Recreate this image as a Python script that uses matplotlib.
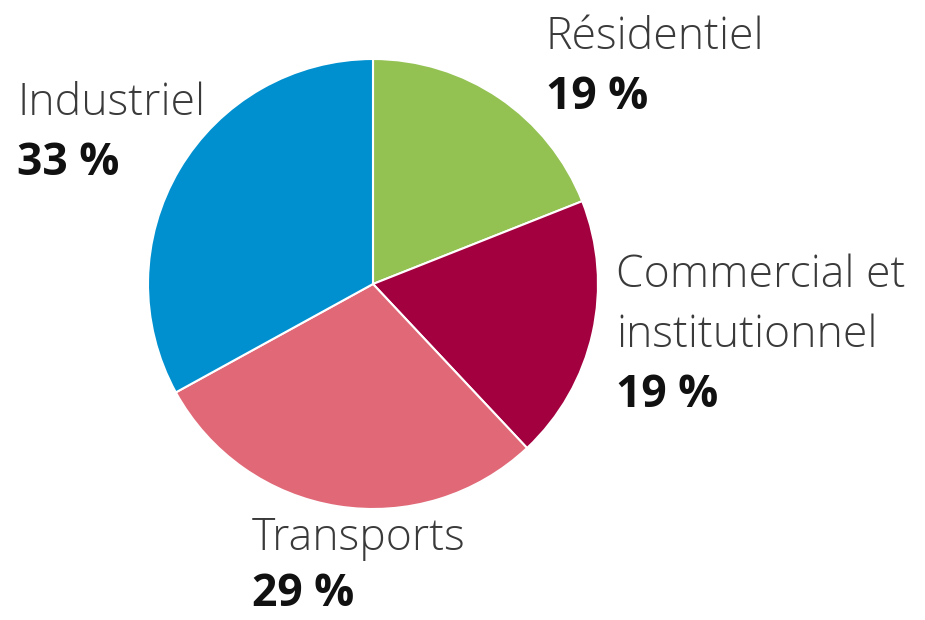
import matplotlib
matplotlib.use("Agg")
import matplotlib.pyplot as plt

categories = ["Résidentiel", "Commercial et\ninstitutionnel", "Transports", "Industriel"]
values = [19, 19, 29, 33]
pct_labels = ["19 %", "19 %", "29 %", "33 %"]
colors = ["#93C152", "#A3003F", "#E06877", "#0090D0"]

W, H = 925, 620
fig = plt.figure(figsize=(W / 100, H / 100), dpi=100)
cx, cy, r = 373, 284, 225
ax = fig.add_axes([(cx - r) / W, (H - cy - r) / H, 2 * r / W, 2 * r / H])
ax.pie(values, colors=colors, startangle=90, counterclock=False,
       wedgeprops=dict(edgecolor="white", linewidth=1.5))
ax.set_xlim(-1, 1)
ax.set_ylim(-1, 1)
ax.set_aspect("equal")
ax.axis("off")

# label anchor (x, baseline y of first line) in pixels
anchors = [(546, 49), (616, 287), (252, 550), (17, 115)]
line = 60
fs = 32
for cat, pct, (x, y) in zip(categories, pct_labels, anchors):
    lines = cat.split("\n")
    for i, ln in enumerate(lines):
        fig.text(x / W, 1 - (y + i * line) / H, ln, fontsize=fs, family="Open Sans",
                 fontweight="light", color="#3a3a3a", va="baseline", ha="left")
    fig.text(x / W, 1 - (y + len(lines) * line - (4 if y > 500 else 0)) / H, pct,
             fontsize=fs, family="Open Sans",
             fontweight="bold", color="#111111", va="baseline", ha="left")

fig.savefig("out.png", dpi=100)
